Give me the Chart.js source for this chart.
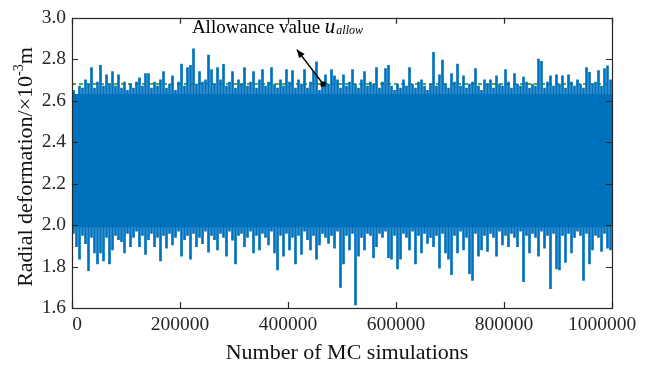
<!DOCTYPE html>
<html>
<head>
<meta charset="utf-8">
<script src="https://cdn.jsdelivr.net/npm/chart.js@4.4.1/dist/chart.umd.min.js"></script>
<style>
  html, body { margin: 0; padding: 0; background: #fff; }
  #wrap { width: 651px; height: 367px; }
</style>
</head>
<body>
<div id="wrap"><canvas id="chart1" width="651" height="367"></canvas></div>
<script>
const nSims = 1000000;
const simHigh = [
  2.65, 2.63, 2.67, 2.66, 2.70, 2.68, 2.76, 2.66, 2.69, 2.77,
  2.67, 2.725, 2.68, 2.74, 2.67, 2.725, 2.66, 2.69, 2.65, 2.68,
  2.66, 2.69, 2.71, 2.67, 2.73, 2.73, 2.66, 2.69, 2.67, 2.70,
  2.74, 2.66, 2.68, 2.72, 2.65, 2.69, 2.776, 2.67, 2.76, 2.77,
  2.85, 2.68, 2.74, 2.69, 2.70, 2.82, 2.75, 2.68, 2.76, 2.70,
  2.775, 2.67, 2.69, 2.74, 2.66, 2.70, 2.68, 2.76, 2.67, 2.69,
  2.74, 2.66, 2.70, 2.75, 2.67, 2.69, 2.76, 2.68, 2.66, 2.70,
  2.67, 2.75, 2.69, 2.745, 2.66, 2.70, 2.68, 2.75, 2.66, 2.69,
  2.74, 2.787, 2.65, 2.67, 2.725, 2.68, 2.75, 2.72, 2.70, 2.66,
  2.725, 2.67, 2.69, 2.75, 2.68, 2.66, 2.70, 2.74, 2.67, 2.69,
  2.68, 2.76, 2.66, 2.69, 2.755, 2.77, 2.67, 2.65, 2.68, 2.66,
  2.70, 2.67, 2.76, 2.68, 2.66, 2.69, 2.70, 2.67, 2.65, 2.68,
  2.833, 2.67, 2.725, 2.796, 2.68, 2.66, 2.73, 2.69, 2.776, 2.67,
  2.72, 2.66, 2.68, 2.69, 2.755, 2.67, 2.65, 2.70, 2.68, 2.70,
  2.66, 2.72, 2.68, 2.67, 2.75, 2.69, 2.66, 2.73, 2.68, 2.67,
  2.714, 2.69, 2.66, 2.68, 2.67, 2.80, 2.79, 2.66, 2.69, 2.72,
  2.67, 2.725, 2.68, 2.72, 2.66, 2.725, 2.69, 2.67, 2.70, 2.68,
  2.66, 2.76, 2.737, 2.68, 2.69, 2.745, 2.67, 2.755, 2.768, 2.70
];
const simLow = [
  1.96, 1.896, 1.835, 1.95, 1.91, 1.78, 1.94, 1.866, 1.812, 1.866,
  1.827, 1.94, 1.812, 1.88, 1.95, 1.93, 1.92, 1.866, 1.96, 1.896,
  1.94, 1.97, 1.896, 1.95, 1.858, 1.93, 1.96, 1.896, 1.94, 1.827,
  1.95, 1.889, 1.96, 1.904, 1.94, 1.97, 1.85, 1.93, 1.95, 1.835,
  1.96, 1.896, 1.94, 1.91, 1.97, 1.869, 1.95, 1.93, 1.88, 1.96,
  1.94, 1.85, 1.97, 1.927, 1.812, 1.95, 1.96, 1.896, 1.94, 1.97,
  1.866, 1.95, 1.88, 1.96, 1.94, 1.904, 1.97, 1.866, 1.784, 1.95,
  1.85, 1.96, 1.88, 1.94, 1.812, 1.95, 1.858, 1.97, 1.93, 1.88,
  1.95, 1.835, 1.904, 1.96, 1.94, 1.912, 1.95, 1.889, 1.97, 1.699,
  1.812, 1.95, 1.88, 1.96, 1.615, 1.85, 1.94, 1.88, 1.96, 1.95,
  1.843, 1.896, 1.96, 1.94, 1.97, 1.843, 1.835, 1.95, 1.788, 1.835,
  1.96, 1.94, 1.88, 1.97, 1.812, 1.95, 1.866, 1.96, 1.912, 1.94,
  1.896, 1.95, 1.792, 1.96, 1.866, 1.835, 1.761, 1.95, 1.866, 1.97,
  1.88, 1.94, 1.765, 1.733, 1.96, 1.85, 1.88, 1.95, 1.873, 1.96,
  1.94, 1.85, 1.97, 1.904, 1.95, 1.896, 1.96, 1.94, 1.896, 1.97,
  1.727, 1.95, 1.866, 1.96, 1.94, 1.85, 1.97, 1.889, 1.95, 1.693,
  1.96, 1.788, 1.784, 1.95, 1.82, 1.96, 1.866, 1.94, 1.97, 1.95,
  1.733, 1.96, 1.812, 1.88, 1.95, 1.94, 1.873, 1.96, 1.889, 1.88
];
// band that is solid blue all the way across
const coreTop = 2.632;
const coreBottom = 1.99;
const uAllow = 2.68;
const xTicks = [0, 200000, 400000, 600000, 800000, 1000000];
const yTicks = [1.6, 1.8, 2.0, 2.2, 2.4, 2.6, 2.8, 3.0];

const binSize = nSims / simHigh.length;
const simData = simHigh.map((h, i) => ({ x: (i + 0.5) * binSize, y: [simLow[i], h] }));

const serif = "'Liberation Serif', 'Times New Roman', serif";
const axisCol = "#262626";
const blue = "#0072BD";

// box, inward ticks, x labels, titles and the annotation arrow
const decor = {
  id: "decor",
  afterDraw(chart) {
    const ctx = chart.ctx;
    const a = chart.chartArea;
    const xs = chart.scales.x, ys = chart.scales.y;
    ctx.save();
    ctx.strokeStyle = axisCol;
    ctx.lineWidth = 1.2;
    ctx.strokeRect(Math.round(a.left) + 0.5, Math.round(a.top) + 0.5,
      Math.round(a.right - a.left), Math.round(a.bottom - a.top));
    ctx.beginPath();
    xTicks.forEach((t) => {
      const px = Math.round(xs.getPixelForValue(t)) + 0.5;
      ctx.moveTo(px, a.bottom); ctx.lineTo(px, a.bottom - 6);
      ctx.moveTo(px, a.top); ctx.lineTo(px, a.top + 6);
    });
    yTicks.forEach((t) => {
      const py = Math.round(ys.getPixelForValue(t)) + 0.5;
      ctx.moveTo(a.left, py); ctx.lineTo(a.left + 6, py);
      ctx.moveTo(a.right, py); ctx.lineTo(a.right - 6, py);
    });
    ctx.stroke();

    // x tick labels (end labels nudged inward like the original)
    ctx.fillStyle = axisCol;
    ctx.font = "19.5px " + serif;
    ctx.textAlign = "center";
    ctx.textBaseline = "alphabetic";
    xTicks.forEach((t, i) => {
      let px = xs.getPixelForValue(t);
      if (i === 0) px += 5;
      if (i === xTicks.length - 1) px -= 10;
      ctx.fillText(String(t), px, 330);
    });

    // x title
    ctx.fillStyle = "#111";
    ctx.font = "22px " + serif;
    ctx.fillText("Number of MC simulations", 347, 359);

    // y title with superscript
    const parts = [
      { t: "Radial deformation/\u00d710", f: "22px " + serif, dy: 0 },
      { t: "-3", f: "14px " + serif, dy: -9 },
      { t: "m", f: "22px " + serif, dy: 0 }
    ];
    let total = 0;
    parts.forEach((p) => { ctx.font = p.f; p.w = ctx.measureText(p.t).width; total += p.w; });
    ctx.translate(32, 167);
    ctx.rotate(-Math.PI / 2);
    ctx.textAlign = "left";
    let cx = -total / 2;
    parts.forEach((p) => { ctx.font = p.f; ctx.fillText(p.t, cx, p.dy); cx += p.w; });
    ctx.setTransform(1, 0, 0, 1, 0, 0);

    // annotation
    const tx = xs.getPixelForValue(465000), ty = ys.getPixelForValue(uAllow);
    const hx = xs.getPixelForValue(416500), hy = ys.getPixelForValue(2.846);
    ctx.strokeStyle = "#000";
    ctx.fillStyle = "#000";
    ctx.lineWidth = 1.5;
    ctx.beginPath();
    ctx.moveTo(tx, ty); ctx.lineTo(hx, hy);
    ctx.stroke();
    const ang = Math.atan2(hy - ty, hx - tx);
    ctx.beginPath();
    ctx.moveTo(hx, hy);
    ctx.lineTo(hx - 9 * Math.cos(ang - 0.4), hy - 9 * Math.sin(ang - 0.4));
    ctx.lineTo(hx - 9 * Math.cos(ang + 0.4), hy - 9 * Math.sin(ang + 0.4));
    ctx.closePath();
    ctx.fill();
    ctx.fillRect(tx - 2.5, ty - 2.5, 5, 5);

    let lx = xs.getPixelForValue(222000);
    const ly = 33;
    ctx.textAlign = "left";
    ctx.font = "19px " + serif;
    ctx.fillText("Allowance value ", lx, ly);
    lx += ctx.measureText("Allowance value ").width;
    ctx.font = "italic 21px " + serif;
    ctx.fillText("u", lx, ly);
    lx += ctx.measureText("u").width + 1;
    ctx.font = "italic 12px " + serif;
    ctx.fillText("allow", lx, ly + 1);
    ctx.restore();
  }
};

const cht1 = document.getElementById("chart1");
new Chart(cht1, {
  type: "bar",
  data: {
    datasets: [
      {
        label: "Radial deformation",
        data: simData,
        backgroundColor: blue,
        borderWidth: 0,
        barThickness: 2,
        order: 0
      },
      {
        type: "line",
        label: "core",
        data: [{ x: 0, y: coreTop }, { x: nSims, y: coreTop }],
        borderWidth: 0,
        backgroundColor: blue,
        fill: { value: coreBottom },
        pointRadius: 0,
        order: 1
      },
      {
        type: "line",
        label: "Allowance value",
        data: [{ x: 0, y: uAllow }, { x: nSims, y: uAllow }],
        borderColor: "#129412",
        borderDash: [4, 3],
        borderWidth: 1.4,
        pointRadius: 0,
        order: 2
      }
    ]
  },
  options: {
    responsive: false,
    animation: false,
    devicePixelRatio: 1,
    layout: { padding: { top: 5, right: 39, left: 0, bottom: 0 } },
    plugins: { legend: { display: false }, tooltip: { enabled: false } },
    scales: {
      x: {
        type: "linear",
        min: 0,
        max: nSims,
        offset: false,
        grid: { display: false, drawTicks: false },
        border: { display: false },
        afterBuildTicks: (s) => { s.ticks = xTicks.map((v) => ({ value: v })); },
        afterFit: (s) => { s.height = 59; },
        ticks: { display: false }
      },
      y: {
        min: 1.6,
        max: 3.0,
        grid: { display: false, drawTicks: false },
        border: { display: false },
        afterBuildTicks: (s) => { s.ticks = yTicks.map((v) => ({ value: v })); },
        afterFit: (s) => { s.width = 72; },
        ticks: {
          padding: 6,
          color: axisCol,
          font: { family: serif, size: 19.5 },
          callback: (v) => Number(v).toFixed(1)
        }
      }
    }
  },
  plugins: [decor]
});
</script>
</body>
</html>
